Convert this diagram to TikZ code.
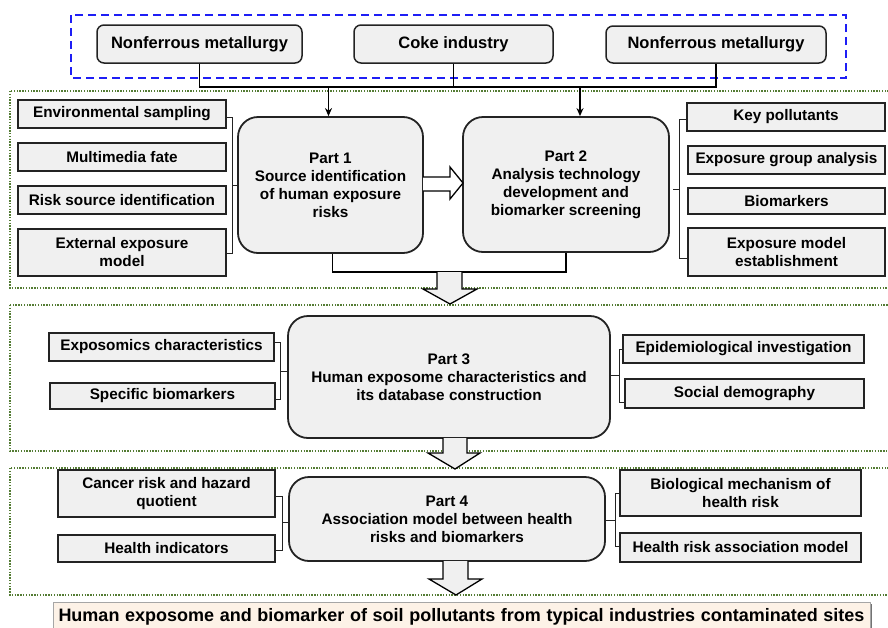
\documentclass[tikz,border=0pt]{standalone}
\usepackage{fontspec}
\setmainfont{Liberation Sans}
\usetikzlibrary{calc,arrows.meta}
\definecolor{boxfill}{RGB}{240,240,240}
\definecolor{boxline}{RGB}{35,35,35}
\definecolor{dotgreen}{RGB}{84,124,52}
\definecolor{dashblue}{RGB}{30,30,245}
\definecolor{bannerfill}{RGB}{253,242,231}
\newcommand{\placebox}[7]{\node[#1, minimum width={#5-#3}, minimum height={#6-#4}] (#2) at ({(#3+#5)/2},{(#4+#6)/2}) {#7};}
\begin{document}
\begin{tikzpicture}[x=1pt,y=-1pt,
  subbox/.style={draw=boxline, fill=boxfill, line width=1.3pt, inner sep=0pt, align=center,
    font=\fontsize{15.3}{18}\selectfont\bfseries},
  partbox/.style={subbox, rounded corners=20pt, line width=1.8pt},
  srcbox/.style={subbox, rounded corners=7pt, line width=1.5pt, font=\fontsize{16.5}{19}\selectfont\bfseries},
  conn/.style={draw=black, line width=1.4pt},
  brk/.style={draw=boxline, line width=1pt},
  gdot/.style={draw=dotgreen, line width=1.6pt, dash pattern=on 1.4pt off 1.4pt},
  fatarrow/.style={draw=black, line width=1.3pt, fill=boxfill, line join=miter},
  banner/.style={draw=black!35, fill=bannerfill, line width=1pt, inner sep=0pt,
    font=\fontsize{18}{20}\selectfont\bfseries}
]
\useasboundingbox (0,0) rectangle (888,627);

% top dashed frame and source boxes
\draw[dashblue, line width=1.8pt, dash pattern=on 8pt off 5pt] (71,15) rectangle (846,78);
\placebox{srcbox}{nm1}{97}{25}{302}{63}{Nonferrous metallurgy}
\placebox{srcbox}{coke}{354}{25}{553}{63}{Coke industry}
\placebox{srcbox}{nm2}{606}{26}{826}{63}{Nonferrous metallurgy}

% green dotted panels
\draw[gdot] (10,91) rectangle (895,288);
\draw[gdot] (10,305) rectangle (895,451);
\draw[gdot] (10,468) rectangle (895,595);

% Part boxes
\placebox{partbox}{p1}{238}{117}{423}{253}{Part 1\\Source identification\\of human exposure\\risks}
\placebox{partbox}{p2}{463}{117}{669}{252}{Part 2\\Analysis technology\\development and\\biomarker screening}
\placebox{partbox}{p3}{288}{316}{610}{438}{Part 3\\Human exposome characteristics and\\its database construction}
\placebox{partbox}{p4}{289}{477}{605}{561}{Part 4\\Association model between health\\risks and biomarkers}

% top connectors
\coordinate (hb) at (449,87);
\draw[conn] (nm1.south) |- (hb) -| (nm2.south);
\draw[conn] (coke.south) -- (coke.south |- hb);
\coordinate (a1) at ($(p1.north)+(-2,0)$);
\coordinate (a2) at ($(p2.north)+(14,0)$);
\draw[conn, -{Stealth[length=8pt,width=7pt]}] (a1 |- hb) -- (a1);
\draw[conn, -{Stealth[length=8pt,width=7pt]}] (a2 |- hb) -- (a2);

% Part 1 side boxes
\placebox{subbox}{l1}{18}{100}{226}{128}{Environmental sampling}
\placebox{subbox}{l2}{18}{143}{226}{171}{Multimedia fate}
\placebox{subbox}{l3}{18}{186}{226}{214}{Risk source identification}
\placebox{subbox}{l4}{18}{229}{226}{276}{External exposure\\model}
\draw[brk] (226,117) -- (232,117) -- (232,253) -- (226,253);
\draw[brk] (232,185) -- (p1.west);

% Part 2 side boxes
\placebox{subbox}{r1}{687}{103}{885}{131}{Key pollutants}
\placebox{subbox}{r2}{688}{146}{885}{174}{Exposure group analysis}
\placebox{subbox}{r3}{688}{188}{885}{214}{Biomarkers}
\placebox{subbox}{r4}{688}{228}{885}{276}{Exposure model\\establishment}
\draw[brk] (687,119) -- (679,119) -- (679,258) -- (688,258);
\draw[brk] (679,189) -- (673,189);

% Part 3 side boxes
\placebox{subbox}{e1}{49}{333}{274}{361}{Exposomics characteristics}
\placebox{subbox}{e2}{50}{383}{275}{409}{Specific biomarkers}
\placebox{subbox}{e3}{623}{335}{864}{363}{Epidemiological investigation}
\placebox{subbox}{e4}{625}{379}{864}{408}{Social demography}
\draw[brk] (274,342) -- (280,342) -- (280,399) -- (275,399);
\draw[brk] (280,371) -- (288,371);
\draw[brk] (623,349) -- (619,349) -- (619,402) -- (625,402);
\draw[brk] (619,375) -- (610,375);

% Part 4 side boxes
\placebox{subbox}{h1}{58}{470}{275}{517}{Cancer risk and hazard\\quotient}
\placebox{subbox}{h2}{58}{535}{275}{562}{Health indicators}
\placebox{subbox}{h3}{620}{470}{861}{516}{Biological mechanism of\\health risk}
\placebox{subbox}{h4}{620}{533}{861}{562}{Health risk association model}
\draw[brk] (275,496) -- (282,496) -- (282,550) -- (275,550);
\draw[brk] (282,522) -- (289,522);
\draw[brk] (620,493) -- (615,493) -- (615,546) -- (620,546);
\draw[brk] (615,520) -- (605,520);

% Part1 / Part2 join
\coordinate (j12) at (449,272);
\draw[conn] (p1.south) ++(2,0) |- (j12) -| (p2.south);

% fat arrows
\draw[fatarrow, fill=white] (423,177) -- (450,177) -- (450,167) -- (463,183) -- (450,199) -- (450,191) -- (423,191);
\draw[fatarrow] (437,272) -- (437,289) -- (423,289) -- (450,304) -- (477,289) -- (462,289) -- (462,272);
\draw[fatarrow] (443,438) -- (443,453) -- (428,453) -- (455,469) -- (480,453) -- (467,453) -- (467,438);
\draw[fatarrow] (443,561) -- (443,579) -- (429,579) -- (456,595) -- (482,579) -- (468,579) -- (468,561);

% banner
\draw[black!55, line width=2pt] (871,604) -- (871,630);
\node[banner, minimum width=817pt, minimum height=30pt] (ban) at (461.5,617)
  {\makebox[806pt][s]{Human exposome and biomarker of soil pollutants from typical industries contaminated sites}};
\end{tikzpicture}
\end{document}
